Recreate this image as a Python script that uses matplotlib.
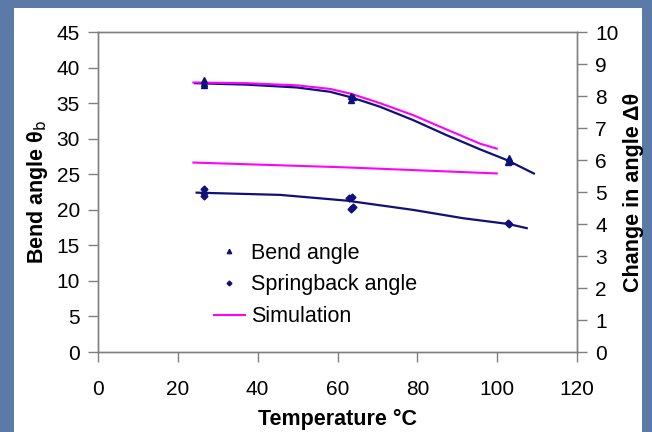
import matplotlib.pyplot as plt
from matplotlib.patches import Rectangle
from matplotlib.lines import Line2D

plt.rcParams['font.family'] = ['Liberation Sans', 'DejaVu Sans']

# measured points
bend_temp = [26.5, 26.5, 26.5, 63.5, 63.5, 64.0, 102.6, 103.0, 103.2]
bend_deg = [38.3, 37.8, 37.6, 36.0, 35.5, 35.8, 26.7, 27.3, 26.9]
spring_temp = [26.5, 26.5, 26.5, 62.8, 63.6, 64.0, 63.5, 102.8, 103.0]
spring_delta = [5.09, 4.96, 4.87, 4.80, 4.83, 4.53, 4.46, 4.02, 3.99]

# trend lines
bend_fit_t = [24.3, 37.2, 49.8, 58.1, 63.5, 70.6, 79.0, 87.3, 95.7, 102.4, 109.2]
bend_fit_y = [37.8, 37.6, 37.2, 36.6, 35.8, 34.5, 32.6, 30.5, 28.5, 27.0, 25.1]
spring_fit_t = [24.7, 45.6, 62.3, 79.0, 91.5, 102.8, 107.4]
spring_fit_y = [4.98, 4.91, 4.73, 4.44, 4.18, 4.00, 3.87]

# simulation
sim_bend_t = [23.9, 37.2, 49.8, 58.1, 63.5, 70.6, 79.0, 87.3, 95.7, 99.9]
sim_bend_y = [37.9, 37.8, 37.5, 37.0, 36.3, 35.0, 33.3, 31.3, 29.3, 28.6]
sim_spring_t = [23.9, 62.0, 99.9]
sim_spring_y = [5.92, 5.77, 5.58]

navy = '#10107a'
pink = '#ff00ff'
grey = '#808080'

fig = plt.figure(figsize=(6.52, 4.32), dpi=100)
fig.patch.set_facecolor('#5b7aa7')
# white slide panel behind the chart
bg = fig.add_axes([14 / 652, 0, 628 / 652, 1 - 7.5 / 432], zorder=-5)
bg.set_axis_off()
bg.add_patch(Rectangle((0, 0), 1, 1, transform=bg.transAxes,
                       facecolor='white', edgecolor='none'))

ax = fig.add_axes([98 / 652, 1 - 352 / 432, 479 / 652, 320 / 432])
ax.set_facecolor('none')
ax2 = ax.twinx()

ax.plot(bend_fit_t, bend_fit_y, color=navy, lw=1.6)
ax.plot(sim_bend_t, sim_bend_y, color=pink, lw=1.5)
h_bend, = ax.plot(bend_temp, bend_deg, linestyle='none', marker='^',
                  ms=4.5, color=navy)

ax2.plot(spring_fit_t, spring_fit_y, color=navy, lw=1.6)
h_sim, = ax2.plot(sim_spring_t, sim_spring_y, color=pink, lw=1.5)
h_spring, = ax2.plot(spring_temp, spring_delta, linestyle='none', marker='D',
                     ms=3.5, color=navy)

ax.set_xlim(0, 120)
ax.set_ylim(0, 45)
ax2.set_ylim(0, 10)
ax.set_xticks(range(0, 121, 20))
ax.set_yticks(range(0, 46, 5))
ax2.set_yticks(range(0, 11))

for a in (ax, ax2):
    for s in a.spines.values():
        s.set_color(grey)
        s.set_linewidth(1.0)
    a.tick_params(colors=grey, labelcolor='black', length=7, width=1.0,
                  labelsize=15, direction='out')
ax.tick_params(axis='x', pad=13)
ax.tick_params(axis='y', pad=6)
ax2.tick_params(axis='y', pad=6)

ax.set_xlabel('Temperature °C', fontsize=15.5, fontweight='bold', labelpad=7)
ax.set_ylabel(r'Bend angle θ$_\mathrm{b}$', fontsize=15.5,
              fontweight='bold', labelpad=5)
ax2.set_ylabel('Change in angle Δθ', fontsize=15.5, fontweight='bold',
               labelpad=3, rotation=90)

leg_sim = Line2D([], [], color=pink, lw=1.5)
ax.legend([h_bend, h_spring, leg_sim],
          ['Bend angle', 'Springback angle', 'Simulation'],
          loc='upper left', bbox_to_anchor=(0.243, 0.342), frameon=False,
          fontsize=15.5, handlelength=1.4, handletextpad=0.3,
          labelspacing=0.5, borderpad=0, borderaxespad=0,
          markerscale=0.7)

fig.savefig('out.png', dpi=100, facecolor=fig.get_facecolor())
